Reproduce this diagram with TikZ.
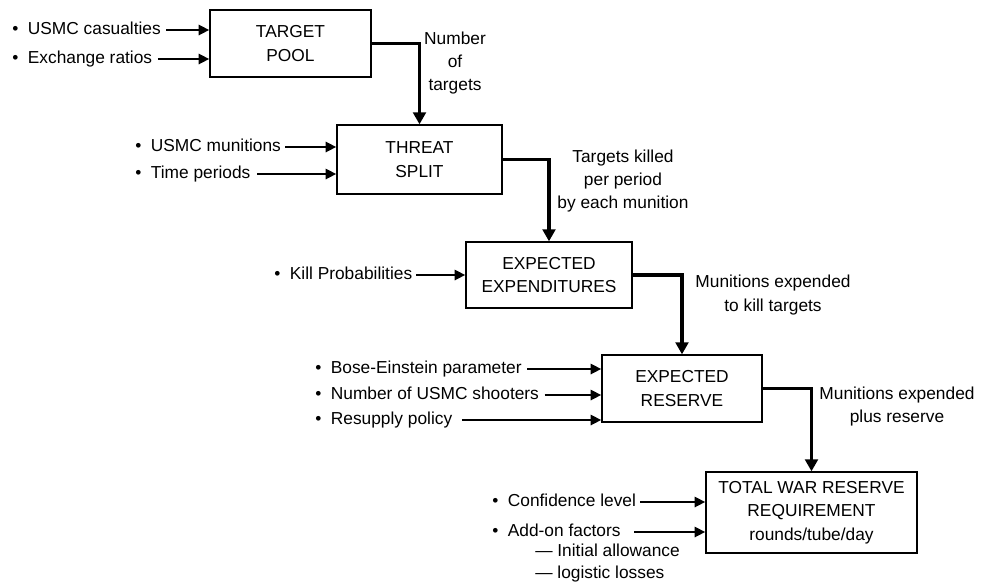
\documentclass[tikz,border=0pt]{standalone}
\usepackage{fontspec}
\setmainfont{Liberation Sans}
\usetikzlibrary{arrows.meta}
\newcommand\itembul{\textbullet\hspace{0.55em}}
\begin{document}
\begin{tikzpicture}[x=0.75pt,y=-0.75pt,
  every node/.style={font=\fontsize{13}{17.5}\selectfont, inner sep=0pt},
  blk/.style={draw, line width=1pt, align=center},
  itm/.style={anchor=west, text height=0.7em, text depth=0pt},
  lbl/.style={align=center},
  flow/.style={line width=2.5pt, -{Triangle[length=9pt,width=9.5pt]}},
  feed/.style={line width=2pt, -{Triangle[length=8pt,width=7.5pt]}}]
\useasboundingbox (0,0) rectangle (986,583);

% process blocks
\node[blk, minimum width=120.75pt, minimum height=50.25pt] (tp) at (290.5,43.5) {TARGET\\POOL};
\node[blk, minimum width=123.75pt, minimum height=51.75pt] (ts) at (419.5,159.5) {THREAT\\SPLIT};
\node[blk, minimum width=124.5pt, minimum height=49.5pt] (ee) at (549,275) {EXPECTED\\EXPENDITURES};
\node[blk, minimum width=120pt, minimum height=50.25pt] (er) at (682,388.5) {EXPECTED\\RESERVE};
\node[blk, minimum width=158.25pt, minimum height=60.75pt] (tw) at (811.5,512.5) {TOTAL WAR RESERVE\\REQUIREMENT\\rounds/tube/day};

% inputs to each block
\node[itm] (cas) at (12,30) {\itembul USMC casualties};
\node[itm] (exr) at (12,59) {\itembul Exchange ratios};
\node[itm] (mun) at (135,147) {\itembul USMC munitions};
\node[itm] (tim) at (135,174) {\itembul Time periods};
\node[itm] (kil) at (274,275) {\itembul Kill Probabilities};
\node[itm] (bos) at (315,369) {\itembul Bose-Einstein parameter};
\node[itm] (nus) at (315,395) {\itembul Number of USMC shooters};
\node[itm] (res) at (315,420) {\itembul Resupply policy};
\node[itm] (con) at (492,502) {\itembul Confidence level};
\node[itm] (add) at (492,532) {\itembul Add-on factors};
\node[itm] (ia) at (535,552) {\textemdash\ Initial allowance};
\node[itm] (ll) at (535,574) {\textemdash\ logistic losses};

\draw[feed] ([xshift=4pt]cas.east) -- (cas.east -| tp.west);
\draw[feed] ([xshift=4pt]exr.east) -- (exr.east -| tp.west);
\draw[feed] ([xshift=3pt]mun.east) -- (mun.east -| ts.west);
\draw[feed] ([xshift=5pt]tim.east) -- (tim.east -| ts.west);
\draw[feed] ([xshift=3pt]kil.east) -- (kil.east -| ee.west);
\draw[feed] ([xshift=4pt]bos.east) -- (bos.east -| er.west);
\draw[feed] ([xshift=4pt]nus.east) -- (nus.east -| er.west);
\draw[feed] ([xshift=7pt]res.east) -- (res.east -| er.west);
\draw[feed] ([xshift=3pt]con.east) -- (con.east -| tw.west);
\draw[feed] ([xshift=10pt]add.east) -- (add.east -| tw.west);

% flow between blocks
\draw[flow] (tp.east) -| (ts.north);
\draw[flow] (ts.east) -| (ee.north);
\draw[flow] (ee.east) -| (er.north);
\draw[flow] (er.east) -| (tw.north);

% flow labels
\node[lbl] (l1) at (455,63) {Number\\of\\targets};
\node[lbl] (l2) at (623,181) {Targets killed\\per period\\by each munition};
\node[lbl] (l3) at (773,295) {Munitions expended\\to kill targets};
\node[lbl] (l4) at (897,406.5) {Munitions expended\\plus reserve};
\end{tikzpicture}
\end{document}
